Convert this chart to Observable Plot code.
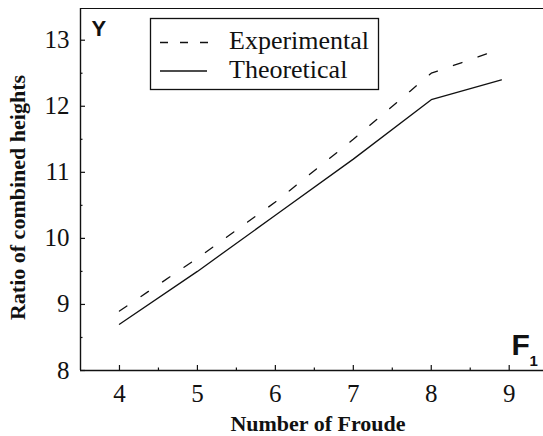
<!DOCTYPE html>
<html>
<head>
<meta charset="utf-8">
<script src="https://cdn.jsdelivr.net/npm/d3@7"></script>
<script src="https://cdn.jsdelivr.net/npm/@observablehq/plot@0.6"></script>
<style>
  html, body { margin: 0; padding: 0; background: #fff; overflow: hidden; }
  #chart svg { display: block; }
</style>
</head>
<body>
<div id="chart"></div>
<script>
// Data
const experimentalX = [4, 5, 6, 7, 8, 8.85];
const experimentalY = [8.9, 9.7, 10.55, 11.5, 12.5, 12.85];
const theoreticalX = [4, 5, 6, 7, 8, 8.9];
const theoreticalY = [8.7, 9.5, 10.35, 11.2, 12.1, 12.4];
const xTicks = [4, 5, 6, 7, 8, 9];
const xMinorTicks = [4.5, 5.5, 6.5, 7.5, 8.5];
const yTicks = [8, 9, 10, 11, 12, 13];
const yMinorTicks = [8.5, 9.5, 10.5, 11.5, 12.5];
const xDomain = [3.5, 9.44];
const yDomain = [8, 13.48];
const seriesNames = ["Experimental", "Theoretical"];
const xTitle = "Number of Froude";
const yTitle = "Ratio of combined heights";

const experimental = experimentalX.map((x, i) => ({x, y: experimentalY[i]}));
const theoretical = theoreticalX.map((x, i) => ({x, y: theoreticalY[i]}));

const serif = "Liberation Serif";
const sans = "Liberation Sans";
const ink = "#111";

const chart = Plot.plot({
  width: 543,
  height: 436,
  marginTop: 8,
  marginLeft: 80,
  marginRight: 0,
  marginBottom: 66,
  style: "font-family: 'Liberation Serif', serif; background: #fff; color: #111;",
  x: {domain: xDomain},
  y: {domain: yDomain},
  marks: [
    // frame lines: left, bottom, top
    Plot.ruleX([xDomain[0]], {stroke: ink, strokeWidth: 1.4}),
    Plot.ruleY([yDomain[0]], {stroke: ink, strokeWidth: 1.4}),
    Plot.ruleY([yDomain[1]], {stroke: ink, strokeWidth: 1.2}),
    Plot.axisX(xTicks, {tickSize: -5, tickPadding: 19, tickFormat: d => String(d), fontSize: 25, fontFamily: serif, stroke: ink, fill: ink, strokeWidth: 1.2, label: null}),
    Plot.axisX(xMinorTicks, {tickSize: -2.5, tickFormat: () => "", stroke: ink, strokeWidth: 1.2, label: null}),
    Plot.axisY(yTicks, {tickSize: -5, tickPadding: 16, tickFormat: d => String(d), fontSize: 25, fontFamily: serif, stroke: ink, fill: ink, strokeWidth: 1.2, label: null}),
    Plot.axisY(yMinorTicks, {tickSize: -2.5, tickFormat: () => "", stroke: ink, strokeWidth: 1.2, label: null}),
    Plot.line(experimental, {x: "x", y: "y", stroke: ink, strokeWidth: 1.3, strokeDasharray: "9,17"}),
    Plot.line(theoretical, {x: "x", y: "y", stroke: ink, strokeWidth: 1.3}),
    Plot.text([xTitle], {frameAnchor: "bottom", text: d => d, dx: 6, dy: 60, lineAnchor: "bottom", textAnchor: "middle", fontSize: 22, fontWeight: "bold", fontFamily: serif, fill: ink}),
    Plot.text([yTitle], {frameAnchor: "left", text: d => d, dx: -63, dy: 8, rotate: -90, textAnchor: "middle", lineAnchor: "middle", fontSize: 22, fontWeight: "bold", fontFamily: serif, fill: ink}),
    Plot.text(["Y"], {frameAnchor: "top-left", text: d => d, dx: 11, dy: 12, lineAnchor: "top", textAnchor: "start", fontSize: 22, fontWeight: "bold", fontFamily: sans, fill: ink}),
    Plot.text(["F"], {frameAnchor: "bottom-right", text: d => d, dx: -32, dy: -16, lineAnchor: "bottom", textAnchor: "start", fontSize: 30, fontWeight: "bold", fontFamily: sans, fill: ink}),
    Plot.text(["1"], {frameAnchor: "bottom-right", text: d => d, dx: -14, dy: -5, lineAnchor: "bottom", textAnchor: "start", fontSize: 15, fontWeight: "bold", fontFamily: sans, fill: ink})
  ]
});

// Legend box drawn inside the plot area
const svg = d3.select(chart);
const g = svg.append("g").attr("class", "legend")
  .attr("font-family", "Liberation Serif").attr("text-anchor", "start");
g.append("rect").attr("x", 150.5).attr("y", 18.5).attr("width", 228).attr("height", 71)
  .attr("fill", "#fff").attr("stroke", ink).attr("stroke-width", 1.3);
g.append("line").attr("x1", 160).attr("x2", 208).attr("y1", 42.5).attr("y2", 42.5)
  .attr("stroke", ink).attr("stroke-width", 1.3).attr("stroke-dasharray", "8,12");
g.append("line").attr("x1", 160).attr("x2", 207).attr("y1", 71).attr("y2", 71)
  .attr("stroke", ink).attr("stroke-width", 1.3);
g.append("text").attr("x", 229).attr("y", 49).attr("text-anchor", "start")
  .attr("font-size", 26).attr("fill", ink).text(seriesNames[0]);
g.append("text").attr("x", 229).attr("y", 78).attr("text-anchor", "start")
  .attr("font-size", 26).attr("fill", ink).text(seriesNames[1]);

document.getElementById("chart").appendChild(chart);
</script>
</body>
</html>
